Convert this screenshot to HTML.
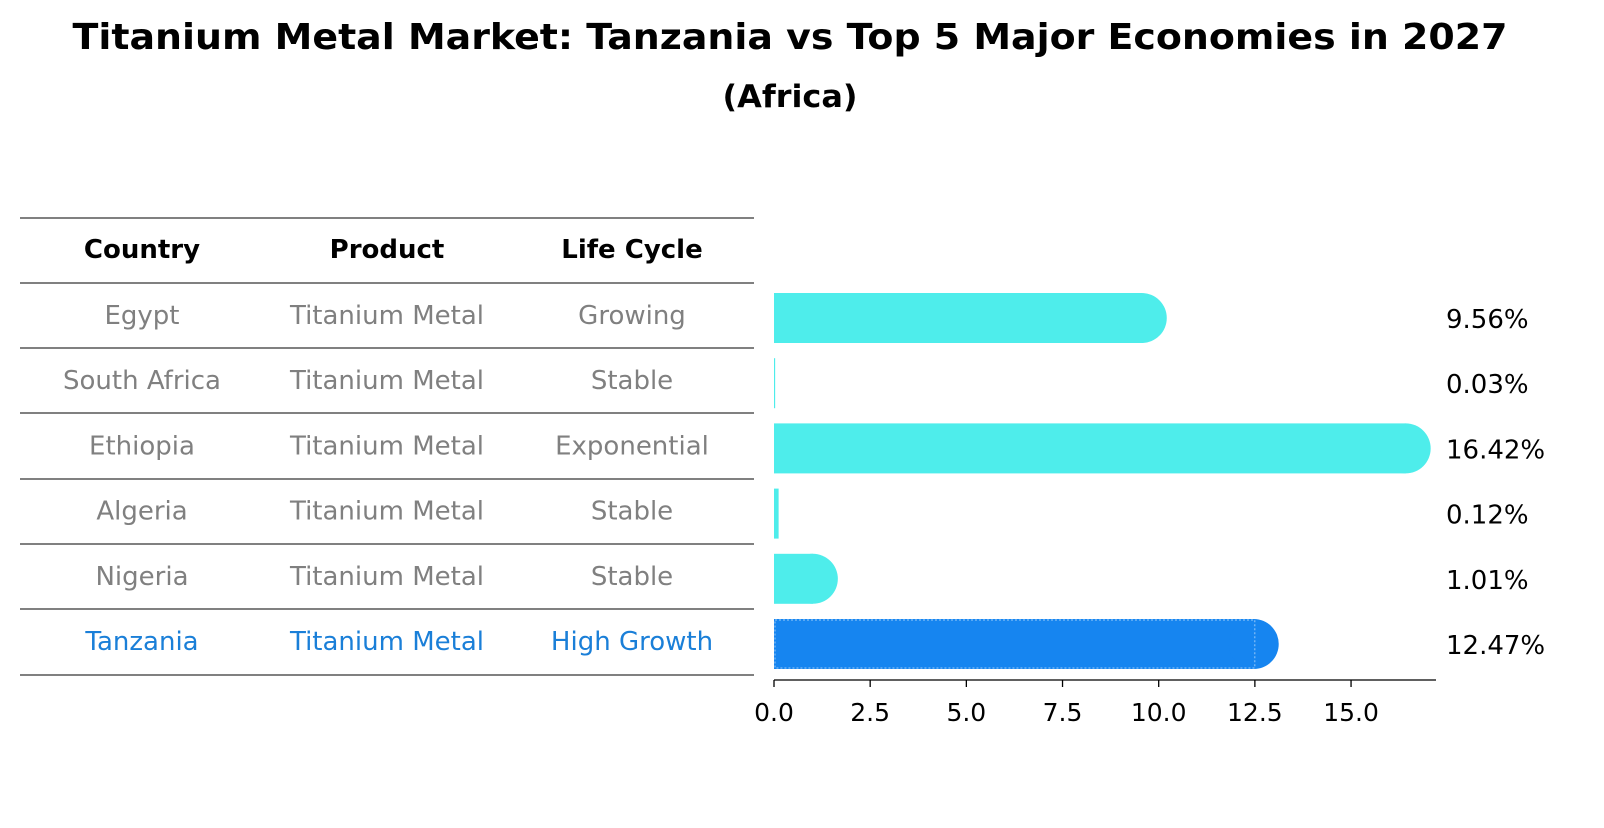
<!DOCTYPE html>
<html><head><meta charset="utf-8"><style>
body{margin:0;background:#fff;font-family:"Liberation Sans","DejaVu Sans",sans-serif;}
svg text{font-family:"DejaVu Sans","Liberation Sans",sans-serif;}
</style></head><body>
<svg id="chart" width="1604" height="823" xmlns="http://www.w3.org/2000/svg">
<text x="790" y="49" text-anchor="middle" font-size="36" font-weight="bold" textLength="1435" lengthAdjust="spacingAndGlyphs">Titanium Metal Market: Tanzania vs Top 5 Major Economies in 2027</text>
<text x="790" y="107" text-anchor="middle" font-size="31" font-weight="bold" textLength="135" lengthAdjust="spacingAndGlyphs">(Africa)</text>
<g id="table"></g>
<g id="bars"></g>
</svg>
<script>
const countries=["Egypt","South Africa","Ethiopia","Algeria","Nigeria","Tanzania"];
const products=["Titanium Metal","Titanium Metal","Titanium Metal","Titanium Metal","Titanium Metal","Titanium Metal"];
const lifeCycles=["Growing","Stable","Exponential","Stable","Stable","High Growth"];
const values=[9.56,0.03,16.42,0.12,1.01,12.47];
const ticks=[0,2.5,5,7.5,10,12.5,15];
const NS="http://www.w3.org/2000/svg";
function mk(tag,attrs,parent){const e=document.createElementNS(NS,tag);for(const k in attrs)e.setAttribute(k,attrs[k]);parent.appendChild(e);return e;}
const tbl=document.getElementById('table'),bars=document.getElementById('bars');
const lineYs=[218,283,348,413,479,544,609,675];
lineYs.forEach(y=>{const l=mk('line',{x1:20,x2:754,y1:y,y2:y,stroke:'#000','stroke-width':1},tbl);

});
const colX=[142,387,632];
["Country","Product","Life Cycle"].forEach((h,i)=>{const t=mk('text',{x:colX[i],y:258,'text-anchor':'middle','font-size':26,'font-weight':'bold'},tbl);t.textContent=h;

});
const rowY=i=>315+i*65.2;
const x=v=>774+v*38.47;
countries.forEach((c,i)=>{
 const hi=c==="Tanzania";const col=hi?'#1a7fd8':'#808080';
 [c,products[i],lifeCycles[i]].forEach((s,j)=>{const t=mk('text',{x:colX[j],y:rowY(i)+9,'text-anchor':'middle','font-size':26,fill:col},tbl);t.textContent=s;
 
 });
 const cy=rowY(i)+3,h=50,w=x(values[i])-774;
 const fill=hi?'#1685F0':'#4EEDEB';
 const g=mk('g',{},bars);
 
 
 mk('rect',{x:774,y:cy-h/2,width:Math.max(w,1),height:h,fill:fill},g);
 if(values[i]>0.5) mk('circle',{cx:774+w,cy:cy,r:h/2,fill:fill},g);
 if(hi) mk('rect',{x:775,y:cy-h/2+1,width:w,height:h-2,fill:'none',stroke:'#6fb3f5','stroke-width':1.5,'stroke-dasharray':'2 2'},g);
 const t=mk('text',{x:1446,y:cy+10,'font-size':26},bars);t.textContent=values[i].toFixed(2)+'%';
 
 
});
const ax=mk('line',{x1:774,x2:1436,y1:680,y2:680,stroke:'#000','stroke-width':1.3},bars);


ticks.forEach(v=>{const l=mk('line',{x1:x(v),x2:x(v),y1:680,y2:687,stroke:'#000','stroke-width':1.3},bars);


const t=mk('text',{x:x(v),y:721,'text-anchor':'middle','font-size':25},bars);t.textContent=v.toFixed(1);

});
</script>
</body></html>
